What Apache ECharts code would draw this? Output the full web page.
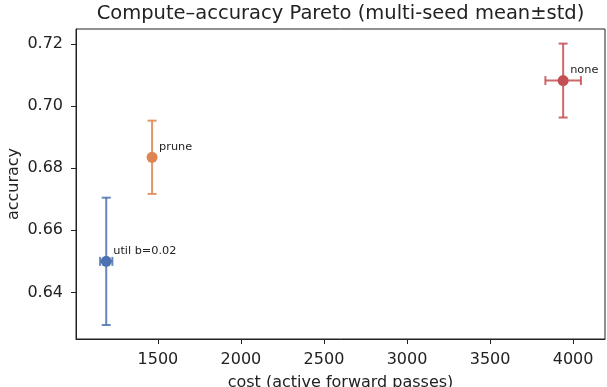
<!DOCTYPE html>
<html>
<head>
<meta charset="utf-8">
<script src="https://cdn.jsdelivr.net/npm/echarts@6/dist/echarts.min.js"></script>
<style>
  html, body { margin: 0; padding: 0; background: #fff; }
  #chart { width: 607px; height: 387px; }
</style>
</head>
<body>
<div id="chart"></div>
<script>
// 数据
var names = ['util b=0.02', 'prune', 'none'];
var cost = [1189, 1465, 3940];
var costStd = [37, 0, 107];
var acc = [0.6500, 0.6835, 0.7082];
var accStd = [0.0205, 0.0118, 0.0119];
var colors = ['#4c72b0', '#dd8452', '#c44e52'];

var xTicks = [1500, 2000, 2500, 3000, 3500, 4000];
var yTicks = [0.64, 0.66, 0.68, 0.70, 0.72];

var textColor = '#222';
var fontFamily = 'DejaVu Sans';

var points = names.map(function (n, i) {
    return {
        name: n,
        value: [cost[i], acc[i], costStd[i], accStd[i]],
        itemStyle: { color: colors[i], opacity: 1 }
    };
});

var myChart = echarts.init(document.getElementById('chart'));
myChart.setOption({
    animation: false,
    graphic: [{
        type: 'text',
        x: 340.5,
        y: 13.5,
        style: {
            text: 'Compute\u2013accuracy Pareto (multi-seed mean\u00b1std)',
            fill: textColor,
            font: '19.5px "DejaVu Sans"',
            align: 'center',
            verticalAlign: 'middle'
        }
    }],
    grid: {
        left: 76,
        right: 2,
        top: 29,
        bottom: 48,
        outerBoundsMode: 'none',
        containLabel: false,
        show: true,
        borderColor: '#222',
        borderWidth: 1
    },
    xAxis: {
        type: 'value',
        min: 1007,
        max: 4192,
        name: 'cost (active forward passes)',
        nameLocation: 'middle',
        nameGap: 36,
        nameTextStyle: { color: textColor, fontSize: 16, fontFamily: fontFamily },
        axisLine: { show: true, lineStyle: { color: '#222', width: 1 } },
        axisTick: { show: true, length: 5, customValues: xTicks, lineStyle: { color: '#222' } },
        axisLabel: {
            customValues: xTicks,
            color: textColor,
            fontSize: 16,
            fontFamily: fontFamily,
            margin: 13,
            formatter: function (v) { return String(v); }
        },
        splitLine: { show: false }
    },
    yAxis: {
        type: 'value',
        min: 0.625,
        max: 0.7248,
        name: 'accuracy',
        nameLocation: 'middle',
        nameGap: 54,
        nameMoveOverlap: false,
        nameTextStyle: { color: textColor, fontSize: 16, fontFamily: fontFamily },
        axisLine: { show: true, lineStyle: { color: '#222', width: 1 } },
        axisTick: { show: true, length: 5, customValues: yTicks, lineStyle: { color: '#222' } },
        axisLabel: {
            customValues: yTicks,
            color: textColor,
            fontSize: 16,
            fontFamily: fontFamily,
            margin: 13,
            formatter: function (v) { return v.toFixed(2); }
        },
        splitLine: { show: false }
    },
    series: [{
        // 误差线
        type: 'custom',
        data: points,
        z: 2,
        renderItem: function (params, api) {
            var x = api.value(0), y = api.value(1);
            var dx = api.value(2), dy = api.value(3);
            var c = colors[params.dataIndex];
            var style = { stroke: c, lineWidth: 2, opacity: 0.85 };
            var cap = 4.5;
            var children = [];
            var top = api.coord([x, y + dy]);
            var bot = api.coord([x, y - dy]);
            children.push({ type: 'line', shape: { x1: top[0], y1: top[1], x2: bot[0], y2: bot[1] }, style: style });
            children.push({ type: 'line', shape: { x1: top[0] - cap, y1: top[1], x2: top[0] + cap, y2: top[1] }, style: style });
            children.push({ type: 'line', shape: { x1: bot[0] - cap, y1: bot[1], x2: bot[0] + cap, y2: bot[1] }, style: style });
            if (dx > 0) {
                var l = api.coord([x - dx, y]);
                var r = api.coord([x + dx, y]);
                children.push({ type: 'line', shape: { x1: l[0], y1: l[1], x2: r[0], y2: r[1] }, style: style });
                children.push({ type: 'line', shape: { x1: l[0], y1: l[1] - cap, x2: l[0], y2: l[1] + cap }, style: style });
                children.push({ type: 'line', shape: { x1: r[0], y1: r[1] - cap, x2: r[0], y2: r[1] + cap }, style: style });
            }
            return { type: 'group', children: children };
        }
    }, {
        type: 'scatter',
        data: points,
        symbolSize: 11,
        z: 3,
        label: {
            show: true,
            position: [12.5, -4.5],
            align: 'left',
            verticalAlign: 'middle',
            formatter: function (p) { return p.name; },
            color: textColor,
            fontSize: 11.3,
            fontFamily: fontFamily
        }
    }]
});
</script>
</body>
</html>
